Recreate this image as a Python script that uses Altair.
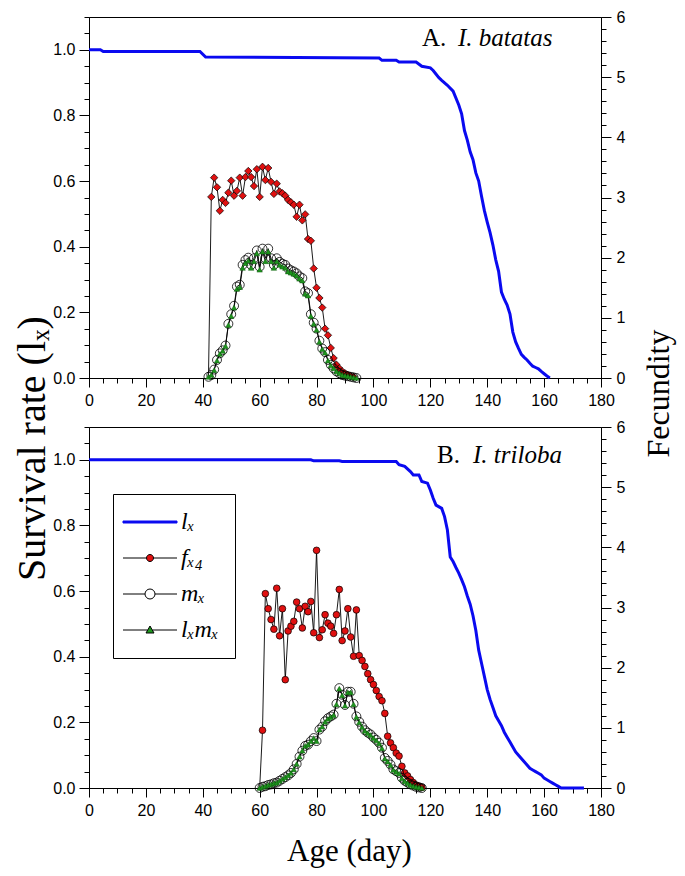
import altair as alt
import pandas as pd

# ---------------- Panel A : I. batatas ----------------
A_LX_DAY = [0, 4, 5, 39, 41, 102, 103, 108, 109, 115, 117, 120, 121, 123, 124, 126, 128, 130, 131, 132,
            133, 134, 135, 136, 137, 138, 139, 140, 141, 142, 143, 144, 145, 146, 147, 148, 149, 150,
            151, 152, 153, 154, 155, 156, 157, 158, 159, 160, 161, 162]
A_LX = [1.0, 1.0, 0.995, 0.995, 0.978, 0.975, 0.968, 0.968, 0.963, 0.963, 0.950, 0.945, 0.937, 0.915,
        0.907, 0.892, 0.874, 0.832, 0.805, 0.754, 0.725, 0.689, 0.665, 0.625, 0.600, 0.554, 0.510,
        0.475, 0.443, 0.405, 0.360, 0.325, 0.262, 0.240, 0.222, 0.195, 0.140, 0.110, 0.090, 0.072,
        0.063, 0.055, 0.045, 0.036, 0.032, 0.028, 0.020, 0.013, 0.006, 0.0]
A_F_DAY = list(range(42, 94))
A_F = [0.0, 3.01, 3.33, 3.17, 2.78, 2.96, 2.91, 3.08, 3.28, 3.03, 3.11, 3.33, 3.03, 3.34, 3.44, 3.34,
       3.19, 3.47, 3.01, 3.51, 3.29, 3.49, 3.26, 3.06, 3.23, 3.10, 3.07, 3.03, 2.96, 2.92, 2.88, 2.68,
       2.88, 2.62, 2.72, 2.31, 2.28, 1.82, 1.50, 1.33, 1.17, 0.82, 0.71, 0.50, 0.33, 0.22, 0.16, 0.11,
       0.08, 0.05, 0.03, 0.02]
A_M_DAY = list(range(42, 95))
A_M = [0.02, 0.05, 0.14, 0.30, 0.41, 0.46, 0.54, 0.90, 1.06, 1.20, 1.52, 1.55, 1.88, 1.96, 2.00, 1.88,
       1.99, 2.12, 1.85, 2.15, 1.99, 2.15, 1.99, 1.88, 1.99, 1.93, 1.90, 1.88, 1.82, 1.79, 1.77, 1.74,
       1.69, 1.66, 1.44, 1.41, 1.06, 0.92, 0.82, 0.62, 0.49, 0.43, 0.30, 0.22, 0.16, 0.11, 0.08, 0.05,
       0.04, 0.03, 0.02, 0.01, 0.00]
A_LM = [0.02, 0.05, 0.13, 0.29, 0.40, 0.45, 0.53, 0.88, 1.03, 1.17, 1.48, 1.51, 1.83, 1.91, 1.95, 1.83,
        1.94, 2.07, 1.80, 2.10, 1.94, 2.10, 1.94, 1.83, 1.94, 1.88, 1.85, 1.83, 1.77, 1.75, 1.73, 1.70,
        1.65, 1.62, 1.40, 1.37, 1.03, 0.90, 0.80, 0.60, 0.48, 0.42, 0.29, 0.21, 0.16, 0.11, 0.08, 0.05,
        0.04, 0.03, 0.02, 0.01, 0.00]

# ---------------- Panel B : I. triloba ----------------
B_LX_DAY = [0, 78, 79, 88, 89, 108, 109, 111, 113, 114, 116, 117, 119, 120, 121, 122, 124, 125, 126,
            127, 128, 129, 130, 131, 132, 133, 134, 135, 136, 137, 138, 139, 140, 141, 142, 143, 144,
            145, 146, 147, 148, 149, 150, 151, 152, 153, 154, 155, 156, 157, 158, 159, 160, 161, 162,
            163, 164, 165, 166, 174]
B_LX = [1.0, 1.0, 0.997, 0.997, 0.995, 0.995, 0.985, 0.980, 0.964, 0.954, 0.954, 0.934, 0.929, 0.908,
        0.883, 0.862, 0.852, 0.827, 0.786, 0.704, 0.690, 0.672, 0.655, 0.635, 0.613, 0.585, 0.560,
        0.525, 0.480, 0.420, 0.380, 0.340, 0.300, 0.270, 0.245, 0.220, 0.205, 0.190, 0.170, 0.155,
        0.140, 0.125, 0.110, 0.100, 0.090, 0.080, 0.070, 0.060, 0.055, 0.050, 0.045, 0.040, 0.030,
        0.025, 0.020, 0.015, 0.010, 0.005, 0.0, 0.0]
B_F_DAY = list(range(60, 118))
B_F = [0.0, 0.96, 3.23, 2.98, 2.80, 2.64, 3.32, 2.53, 2.98, 1.80, 2.61, 2.69, 2.77, 3.09, 2.98, 2.66,
       3.02, 2.93, 3.10, 2.58, 3.95, 2.50, 2.63, 2.88, 2.74, 2.69, 2.57, 2.88, 3.30, 2.45, 2.61, 2.98,
       2.51, 2.19, 2.96, 2.20, 2.12, 2.02, 1.90, 1.80, 1.72, 1.62, 1.52, 1.45, 1.24, 0.86, 0.75, 0.67,
       0.58, 0.53, 0.36, 0.25, 0.20, 0.14, 0.09, 0.05, 0.03, 0.01]
B_M_DAY = list(range(60, 118))
B_M = [0.00, 0.02, 0.03, 0.05, 0.06, 0.08, 0.09, 0.12, 0.15, 0.18, 0.21, 0.25, 0.31, 0.40, 0.52, 0.62,
       0.70, 0.72, 0.78, 0.83, 0.78, 0.97, 1.02, 1.11, 1.16, 1.19, 1.22, 1.40, 1.66, 1.55, 1.38, 1.60,
       1.60, 1.40, 1.19, 1.10, 1.02, 0.96, 0.92, 0.89, 0.84, 0.80, 0.75, 0.67, 0.50, 0.45, 0.39, 0.31,
       0.28, 0.25, 0.17, 0.12, 0.09, 0.06, 0.04, 0.02, 0.01, 0.00]
B_LM = [0.00, 0.02, 0.03, 0.05, 0.06, 0.08, 0.09, 0.12, 0.15, 0.18, 0.21, 0.25, 0.31, 0.40, 0.52, 0.62,
        0.70, 0.72, 0.78, 0.83, 0.78, 0.97, 1.02, 1.10, 1.15, 1.18, 1.21, 1.39, 1.65, 1.54, 1.37, 1.59,
        1.59, 1.39, 1.18, 1.09, 1.01, 0.95, 0.91, 0.88, 0.83, 0.79, 0.74, 0.66, 0.49, 0.44, 0.38, 0.30,
        0.27, 0.24, 0.16, 0.11, 0.08, 0.05, 0.03, 0.02, 0.01, 0.00]

# ---------------- axes / labels ----------------
X_MAJOR = [0, 20, 40, 60, 80, 100, 120, 140, 160, 180]
X_MINOR = [v for v in range(0, 181, 5) if v % 20]
L_MAJOR = [0.0, 0.2, 0.4, 0.6, 0.8, 1.0]
L_MINOR = [round(i * 0.05, 2) for i in range(0, 23) if i % 4]
R_MAJOR = [0, 1, 2, 3, 4, 5, 6]
R_MINOR = [round(i * 0.2, 1) for i in range(0, 31) if i % 5]
LEG_LABELS = ["l\u2093", "f\u2093\u2084", "m\u2093", "l\u2093m\u2093"]

SANS = "Liberation Sans, Arial, sans-serif"
SERIF = "Liberation Serif, Times New Roman, serif"
W, H = 512, 361
BLUE = "#0a0af0"
RED = "#e01010"
GREEN = "#1e961e"

LEG_PATHS = [
    "M-1.8,-0.1H3.6V0.1H-1.8Z",
    "M-1.8,0H0.55M1.25,0H3.6M0.55,0A0.35,0.35 0 1,0 1.25,0A0.35,0.35 0 1,0 0.55,0Z",
    "M-1.8,0H0.4M1.4,0H3.6M0.4,0A0.5,0.5 0 1,0 1.4,0A0.5,0.5 0 1,0 0.4,0Z",
    "M-1.8,0H0.66M1.14,0H3.6M0.9,-0.4L1.3,0.3H0.5Z",
]
LEG_FILLS = [BLUE, RED, "white", GREEN]
LEG_STROKES = [BLUE, "black", "black", "black"]


def panel(lx_day, lx, f_day, f, m_day, m, lm, f_shape, f_size, tag, name, tag_x, name_x, tag_y, top):
    lx_df = pd.DataFrame({"day": lx_day, "v": lx})
    f_df = pd.DataFrame({"day": f_day, "v": f})
    fp_df = f_df[f_df["v"] > 0]
    m_df = pd.DataFrame({"day": m_day, "v": m})
    lm_df = pd.DataFrame({"day": m_day, "v": lm})

    xs = alt.Scale(domain=[0, 180], nice=False, zero=False)
    ls = alt.Scale(domain=[0, 1.1], nice=False, zero=False)
    fs = alt.Scale(domain=[0, 6], nice=False, zero=False)

    xmaj_kw = dict(orient="bottom", values=X_MAJOR, tickSize=9, labelPadding=5, labelFontSize=16,
                   labelFont=SANS, labelFlush=False, grid=False, domain=True)
    if top:
        xmaj = alt.Axis(title=None, **xmaj_kw)
    else:
        xmaj = alt.Axis(title="Age (day)", titleFont=SERIF, titleFontSize=31, titleFontWeight="normal",
                        titleY=72, titleBaseline="alphabetic", titleX=260, **xmaj_kw)
    xmin = alt.Axis(orient="bottom", values=X_MINOR, tickSize=5, labels=False, domain=False, grid=False,
                    title=None)

    lmaj_kw = dict(orient="left", values=L_MAJOR, format=".1f", tickSize=10, labelPadding=4,
                   labelFontSize=16, labelFont=SANS, grid=False, domain=True)
    if top:
        lmaj = alt.Axis(title="Survival rate (l\u2093)", titleFont=SERIF, titleFontSize=40,
                        titleFontWeight="normal", titleX=-57, titleY=431, titleAngle=270,
                        titleAlign="center", titleBaseline="middle", **lmaj_kw)
    else:
        lmaj = alt.Axis(title=None, **lmaj_kw)
    lmin = alt.Axis(orient="left", values=L_MINOR, tickSize=5, labels=False, domain=False, grid=False,
                    title=None)

    rmaj_kw = dict(orient="right", values=R_MAJOR, format="d", tickSize=10, labelPadding=5,
                   labelFontSize=16, labelFont=SANS, grid=False, domain=True)
    if top:
        rmaj = alt.Axis(title="Fecundity", titleFont=SERIF, titleFontSize=32, titleFontWeight="normal",
                        titleX=57, titleY=376, titleAngle=270, titleAlign="center",
                        titleBaseline="middle", **rmaj_kw)
    else:
        rmaj = alt.Axis(title=None, **rmaj_kw)
    rmin = alt.Axis(orient="right", values=R_MINOR, tickSize=5, labels=False, domain=False, grid=False,
                    title=None)

    layers = []
    layers.append(alt.Chart(lx_df).mark_line(color=BLUE, strokeWidth=3).encode(
        x=alt.X("day:Q", scale=xs, axis=xmaj), y=alt.Y("v:Q", scale=ls, axis=lmaj)))
    layers.append(alt.Chart(lx_df).mark_line(opacity=0).encode(
        x=alt.X("day:Q", scale=xs, axis=xmin), y=alt.Y("v:Q", scale=ls, axis=lmin)))
    layers.append(alt.Chart(f_df).mark_line(color="black", strokeWidth=0.9).encode(
        x=alt.X("day:Q", scale=xs, axis=None), y=alt.Y("v:Q", scale=fs, axis=rmaj)))
    layers.append(alt.Chart(f_df).mark_line(opacity=0).encode(
        x=alt.X("day:Q", scale=xs, axis=None), y=alt.Y("v:Q", scale=fs, axis=rmin)))
    layers.append(alt.Chart(fp_df).mark_point(shape=f_shape, filled=True, fill=RED, stroke="black",
                                              strokeWidth=0.7, size=f_size, opacity=1).encode(
        x=alt.X("day:Q", scale=xs, axis=None), y=alt.Y("v:Q", scale=fs, axis=None)))
    layers.append(alt.Chart(m_df).mark_line(color="black", strokeWidth=0.9).encode(
        x=alt.X("day:Q", scale=xs, axis=None), y=alt.Y("v:Q", scale=fs, axis=None)))
    layers.append(alt.Chart(m_df).mark_point(shape="circle", filled=False, stroke="black",
                                             strokeWidth=0.8, size=80, opacity=1).encode(
        x=alt.X("day:Q", scale=xs, axis=None), y=alt.Y("v:Q", scale=fs, axis=None)))
    layers.append(alt.Chart(lm_df).mark_line(color="black", strokeWidth=0.9).encode(
        x=alt.X("day:Q", scale=xs, axis=None), y=alt.Y("v:Q", scale=fs, axis=None)))
    layers.append(alt.Chart(lm_df).mark_point(shape="triangle-up", filled=True, fill=GREEN,
                                              stroke="#0d5a0d", strokeWidth=0.5, size=30,
                                              opacity=1).encode(
        x=alt.X("day:Q", scale=xs, axis=None), y=alt.Y("v:Q", scale=fs, axis=None)))
    layers.append(alt.Chart(pd.DataFrame({"t": [tag]})).mark_text(
        font=SERIF, fontSize=25, align="left", baseline="alphabetic", color="black").encode(
        x=alt.value(tag_x), y=alt.value(tag_y), text="t:N"))
    layers.append(alt.Chart(pd.DataFrame({"t": [name]})).mark_text(
        font=SERIF, fontSize=25, fontStyle="italic", align="left", baseline="alphabetic",
        color="black").encode(x=alt.value(name_x), y=alt.value(tag_y), text="t:N"))

    if not top:
        leg = alt.Legend(title=None, orient="none", legendX=24, legendY=67, padding=16, rowPadding=12,
                         strokeColor="black", fillColor="white", labelFont=SERIF, labelFontSize=24,
                         labelFontStyle="italic", labelOffset=28, labelLimit=0, symbolSize=400,
                         symbolStrokeWidth=1, labelColor="black", symbolOpacity=1)
        layers.append(alt.Chart(pd.DataFrame({"s": LEG_LABELS})).transform_filter("false").mark_point(
            size=400, opacity=1, strokeWidth=1, filled=True).encode(
            shape=alt.Shape("s:N", scale=alt.Scale(domain=LEG_LABELS, range=LEG_PATHS), legend=leg),
            fill=alt.Fill("s:N", scale=alt.Scale(domain=LEG_LABELS, range=LEG_FILLS), legend=leg),
            stroke=alt.Stroke("s:N", scale=alt.Scale(domain=LEG_LABELS, range=LEG_STROKES), legend=leg),
        ))

    return alt.layer(*layers).resolve_scale(y="independent").resolve_axis(
        x="independent", y="independent").properties(width=W, height=H)


top = panel(A_LX_DAY, A_LX, A_F_DAY, A_F, A_M_DAY, A_M, A_LM, "diamond", 55,
            "A.", "I. batatas", 333, 369, 29, True)
bottom = panel(B_LX_DAY, B_LX, B_F_DAY, B_F, B_M_DAY, B_M, B_LM, "circle", 45,
               "B.", "I. triloba", 348, 384, 36, False)

chart = alt.vconcat(top, bottom, spacing=49, bounds="flush").resolve_scale(
    shape="independent", fill="independent", stroke="independent").properties(
    padding={"left": 3, "top": 0, "right": 2, "bottom": 3}).configure_view(
    stroke="black", strokeWidth=1).configure_axis(
    labelColor="black", tickColor="black", domainColor="black", titleColor="black",
    tickWidth=1, domainWidth=1)

chart.save("out.html", embed_options={"renderer": "svg", "actions": False})
